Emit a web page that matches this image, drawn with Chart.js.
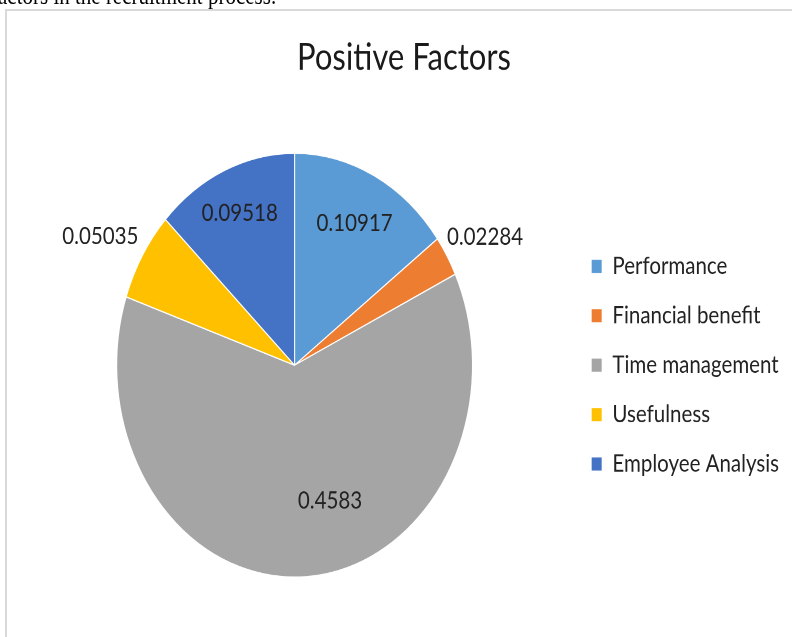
<!DOCTYPE html>
<html lang="en">
<head>
    <meta charset="UTF-8">
    <meta name="viewport" content="width=device-width, initial-scale=1.0">
    <title>Positive Factors</title>
    <script src="https://cdn.jsdelivr.net/npm/chart.js"></script>
    <style>
        body {
            margin: 0;
            width: 792px;
            height: 637px;
            overflow: hidden;
            background: #fff;
            position: relative;
        }

        .frame {
            position: absolute;
            left: 5px;
            top: 9px;
            width: 820px;
            height: 660px;
            border-left: 2px solid #d9d9d9;
            border-top: 2px solid #d9d9d9;
        }

        /* the figure is shown a little taller than it is wide */
        .stretch {
            position: absolute;
            left: 0;
            top: 0;
            width: 792px;
            height: 535px;
            transform: scaleY(1.191);
            transform-origin: 0 0;
        }

        .caption {
            position: absolute;
            left: -2px;
            top: -14px;
            font: 21px/20px "Liberation Serif", "Times New Roman", serif;
            white-space: nowrap;
            color: #000;
        }

        .chart-box {
            position: absolute;
            left: 0;
            top: 0;
            width: 792px;
            height: 535px;
        }
    </style>
</head>
<body>
<div class="frame"></div>
<div class="stretch">
    <div class="caption">actors in the recruitment process.</div>
    <div class="chart-box"><canvas id="positiveFactorsChart"></canvas></div>
</div>

<script>
    const categories = ['Performance', 'Financial benefit', 'Time management', 'Usefulness', 'Employee Analysis'];
    const weights = [0.10917, 0.02284, 0.4583, 0.05035, 0.09518];
    const sliceColors = ['#5B9BD5', '#ED7D31', '#A5A5A5', '#FFC000', '#4472C4'];

    // where each value label sits: fraction of the radius along the slice middle, plus an angle shift in degrees
    const labelPlacement = [
        { dist: 0.75, shift: 0 },
        { dist: 1.23, shift: 1.5 },
        { dist: 0.67, shift: -14 },
        { dist: 1.25, shift: -2 },
        { dist: 0.78, shift: 0 }
    ];

    const sliceLabels = {
        id: 'sliceLabels',
        afterDatasetsDraw(chart) {
            const ctx = chart.ctx;
            const meta = chart.getDatasetMeta(0);
            ctx.save();
            ctx.font = '20.5px Lato';
            ctx.fillStyle = '#222';
            ctx.textAlign = 'center';
            ctx.textBaseline = 'middle';
            meta.data.forEach((arc, i) => {
                const p = arc.getProps(['x', 'y', 'startAngle', 'endAngle', 'outerRadius'], true);
                const place = labelPlacement[i];
                const angle = (p.startAngle + p.endAngle) / 2 + place.shift * Math.PI / 180;
                const r = p.outerRadius * place.dist;
                ctx.fillText(String(weights[i]), p.x + Math.cos(angle) * r, p.y + Math.sin(angle) * r);
            });
            ctx.restore();
        }
    };

    const ctx = document.getElementById('positiveFactorsChart').getContext('2d');
    new Chart(ctx, {
        type: 'pie',
        data: {
            labels: categories,
            datasets: [{
                data: weights,
                backgroundColor: sliceColors,
                borderColor: '#ffffff',
                borderWidth: 1
            }]
        },
        options: {
            responsive: true,
            maintainAspectRatio: false,
            devicePixelRatio: 2,
            animation: false,
            layout: {
                padding: { left: 19, right: 3, top: 30, bottom: 50 }
            },
            plugins: {
                title: {
                    display: true,
                    text: 'Positive Factors',
                    color: '#1a1a1a',
                    font: { family: 'Lato', size: 31, weight: 'normal' },
                    padding: { top: 0, bottom: 61 }
                },
                legend: {
                    position: 'right',
                    fullSize: false,
                    labels: {
                        boxWidth: 11,
                        boxHeight: 12,
                        padding: 21,
                        color: '#222',
                        font: { family: 'Lato', size: 20.5 }
                    }
                },
                tooltip: { enabled: false }
            }
        },
        plugins: [sliceLabels]
    });
</script>
</body>
</html>
